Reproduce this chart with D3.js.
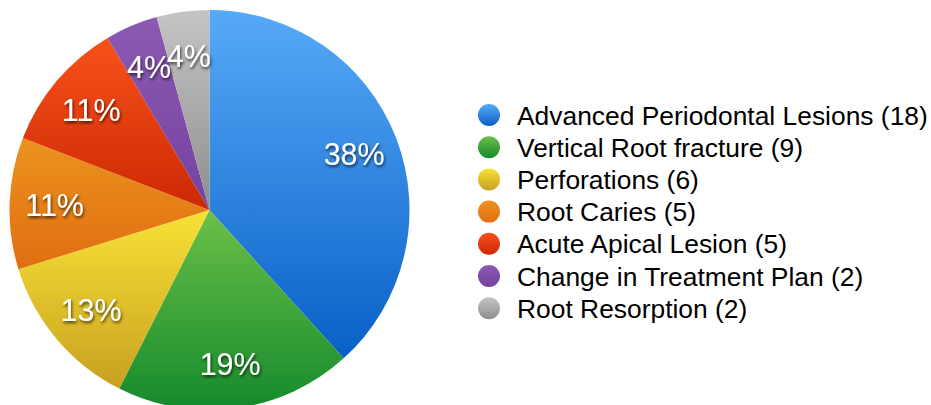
<!DOCTYPE html>
<html>
<head>
<meta charset="utf-8">
<script src="https://cdn.jsdelivr.net/npm/d3@7"></script>
<style>
  html, body { margin: 0; padding: 0; background: #fff; }
  svg { display: block; }
</style>
</head>
<body>
<svg id="chart" width="931" height="405"></svg>
<script>
// Reasons for tooth extraction (counts)
const categories = [
  "Advanced Periodontal Lesions",
  "Vertical Root fracture",
  "Perforations",
  "Root Caries",
  "Acute Apical Lesion",
  "Change in Treatment Plan",
  "Root Resorption"
];
const counts = [18, 9, 6, 5, 5, 2, 2];
// Light (top) and dark (bottom) stops of each slice's vertical gradient
const lightColors = ["#57aaf8", "#6cc048", "#f8e236", "#ec921f", "#f8521a", "#8c5ab2", "#c4c4c4"];
const darkColors  = ["#0860c6", "#148a2c", "#c8a020", "#e06e10", "#cc2804", "#7442a0", "#8e8e8e"];

const svg = d3.select("#chart");
const defs = svg.append("defs");

categories.forEach((c, i) => {
  const g = defs.append("linearGradient")
    .attr("id", "grad" + i)
    .attr("x1", 0).attr("y1", 0).attr("x2", 0).attr("y2", 1);
  g.append("stop").attr("offset", "0%").attr("stop-color", lightColors[i]);
  g.append("stop").attr("offset", "100%").attr("stop-color", darkColors[i]);
});

const shadow = defs.append("filter").attr("id", "labelShadow")
  .attr("x", "-20%").attr("y", "-30%").attr("width", "140%").attr("height", "160%");
shadow.append("feDropShadow")
  .attr("dx", 1).attr("dy", 2).attr("stdDeviation", 1.5)
  .attr("flood-color", "#000").attr("flood-opacity", 0.7);

const total = d3.sum(counts);
const data = categories.map((c, i) => ({ name: c, value: counts[i], i }));

const cx = 209.5, cy = 210, radius = 200;
const pie = d3.pie().value(d => d.value).sort(null);
const arcs = pie(data);
const arc = d3.arc().innerRadius(0).outerRadius(radius);
const labelArc = d3.arc().innerRadius(155).outerRadius(155);

const gPie = svg.append("g").attr("transform", `translate(${cx},${cy})`);

gPie.selectAll("path.slice")
  .data(arcs)
  .join("path")
  .attr("class", "slice")
  .attr("d", arc)
  .attr("fill", d => `url(#grad${d.data.i})`);

gPie.selectAll("text.pct")
  .data(arcs)
  .join("text")
  .attr("class", "pct")
  .attr("transform", d => `translate(${labelArc.centroid(d)})`)
  .attr("text-anchor", "middle")
  .attr("dy", "0.36em")
  .attr("font-family", "'Liberation Sans', Arial, Helvetica, sans-serif")
  .attr("font-size", 30.5)
  .attr("fill", "#fff")
  .attr("filter", "url(#labelShadow)")
  .text(d => Math.round(d.data.value / total * 100) + "%");

// Legend
const legendX = 489, legendY = 115, rowH = 32.2;
const legend = svg.append("g");
const rows = legend.selectAll("g.row")
  .data(data)
  .join("g")
  .attr("class", "row")
  .attr("transform", (d, i) => `translate(${legendX},${legendY + i * rowH})`);

rows.append("circle")
  .attr("r", 11)
  .attr("fill", d => `url(#grad${d.i})`);

rows.append("text")
  .attr("x", 28)
  .attr("dy", "0.36em")
  .attr("font-family", "'Liberation Sans', Arial, Helvetica, sans-serif")
  .attr("font-size", 26.4)
  .attr("fill", "#000")
  .text(d => `${d.name} (${d.value})`);
</script>
</body>
</html>
